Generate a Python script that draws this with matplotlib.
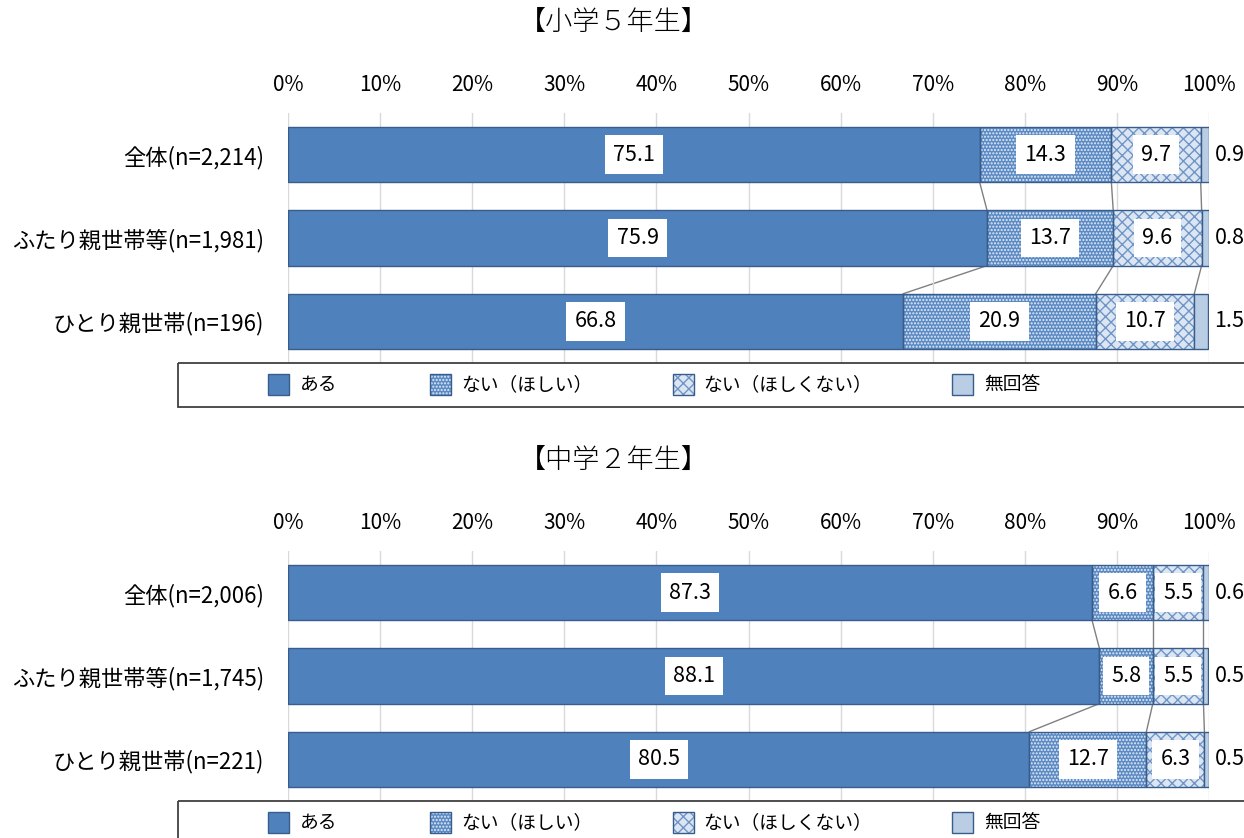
import matplotlib.pyplot as plt
from matplotlib.patches import Rectangle

plt.rcParams['font.family'] = ['Noto Sans CJK JP', 'DejaVu Sans']
plt.rcParams['hatch.linewidth'] = 1.0

W, H = 1244, 838

series = ['ある', 'ない（ほしい）', 'ない（ほしくない）', '無回答']
ticks = [0, 10, 20, 30, 40, 50, 60, 70, 80, 90, 100]

title_e5 = '【小学５年生】'
cats_e5 = ['全体(n=2,214)', 'ふたり親世帯等(n=1,981)', 'ひとり親世帯(n=196)']
aru_e5 = [75.1, 75.9, 66.8]
hoshii_e5 = [14.3, 13.7, 20.9]
hoshikunai_e5 = [9.7, 9.6, 10.7]
mukaito_e5 = [0.9, 0.8, 1.5]

title_j2 = '【中学２年生】'
cats_j2 = ['全体(n=2,006)', 'ふたり親世帯等(n=1,745)', 'ひとり親世帯(n=221)']
aru_j2 = [87.3, 88.1, 80.5]
hoshii_j2 = [6.6, 5.8, 12.7]
hoshikunai_j2 = [5.5, 5.5, 6.3]
mukaito_j2 = [0.6, 0.5, 0.5]

edge = '#385D8A'
styles = [
    dict(fc='#4F81BD', hatch=None, hc=None),
    dict(fc='#5B8AC4', hatch='.....', hc='#E4ECF6'),
    dict(fc='#DCE6F2', hatch='xxx', hc='#6F95C8'),
    dict(fc='#B9CDE5', hatch=None, hc=None),
]


def px_axes(fig, left, top, right, bottom):
    return fig.add_axes([left / W, 1 - bottom / H, (right - left) / W, (bottom - top) / H])


def panel(fig, off, title, cats, vals):
    ax = px_axes(fig, 288, 113 + off, 1209, 363 + off)
    h = 0.663
    y = list(range(len(cats)))
    left = [0] * len(cats)
    cums = []
    for k, v in enumerate(vals):
        st = styles[k]
        if st['hatch']:
            ax.barh(y, v, left=left, height=h, color=st['fc'], hatch=st['hatch'],
                    edgecolor=st['hc'], linewidth=0, zorder=2)
            ax.barh(y, v, left=left, height=h, fill=False, edgecolor=edge, linewidth=1, zorder=3)
        else:
            ax.barh(y, v, left=left, height=h, color=st['fc'], edgecolor=edge, linewidth=1, zorder=3)
        for i in y:
            if k < 3:
                ax.text(left[i] + v[i] / 2, i, f'{v[i]:.1f}', ha='center', va='center', fontsize=15.5,
                        zorder=5, bbox=dict(boxstyle='square,pad=0.38', fc='white', ec='none'))
            else:
                ax.annotate(f'{v[i]:.1f}', (100, i), xytext=(4, 0), textcoords='offset points',
                            ha='left', va='center', fontsize=15.5)
        left = [a + b for a, b in zip(left, v)]
        cums.append(list(left))
    # series lines
    for k in range(3):
        for i in range(len(cats) - 1):
            ax.plot([cums[k][i], cums[k][i + 1]], [i + h / 2, i + 1 - h / 2],
                    color='#808080', lw=1, zorder=1)
    ax.set_xlim(0, 100)
    ax.set_ylim(len(cats) - 0.5, -0.5)
    ax.set_xticks(ticks)
    ax.set_xticklabels([f'{t}%' for t in ticks])
    ax.xaxis.tick_top()
    ax.set_yticks(y)
    ax.set_yticklabels(cats)
    ax.tick_params(axis='x', length=0, pad=12, labelsize=15)
    ax.tick_params(axis='y', length=0, pad=17, labelsize=16)
    ax.grid(axis='x', color='#D9D9D9', lw=1, zorder=0)
    for s in ax.spines.values():
        s.set_visible(False)
    fig.text(614 / W, 1 - (22 + off) / H, title, ha='center', va='center', fontsize=19.5,
             fontweight='light')

    # legend box
    lg = px_axes(fig, 0, 363 + off, W, 407 + off)
    lg.set_xlim(0, W)
    lg.set_ylim(407 + off, 363 + off)
    lg.axis('off')
    lg.add_patch(Rectangle((178, 363 + off), 1200, 44, fill=False, ec='#404040', lw=1.3, clip_on=False))
    sw = [268, 430, 673, 952]
    tx = [300, 461, 703, 984]
    for k in range(4):
        st = styles[k]
        yy = 374 + off
        if st['hatch']:
            lg.add_patch(Rectangle((sw[k], yy), 21, 21, fc=st['fc'], hatch=st['hatch'], ec=st['hc'], lw=0))
            lg.add_patch(Rectangle((sw[k], yy), 21, 21, fill=False, ec=edge, lw=1))
        else:
            lg.add_patch(Rectangle((sw[k], yy), 21, 21, fc=st['fc'], ec=edge, lw=1))
        lg.text(tx[k], yy + 10.5, series[k], ha='left', va='center', fontsize=13.5)


fig = plt.figure(figsize=(W / 100, H / 100), dpi=100)
panel(fig, 0, title_e5, cats_e5, [aru_e5, hoshii_e5, hoshikunai_e5, mukaito_e5])
panel(fig, 438, title_j2, cats_j2, [aru_j2, hoshii_j2, hoshikunai_j2, mukaito_j2])
fig.savefig('out.png', dpi=100)
